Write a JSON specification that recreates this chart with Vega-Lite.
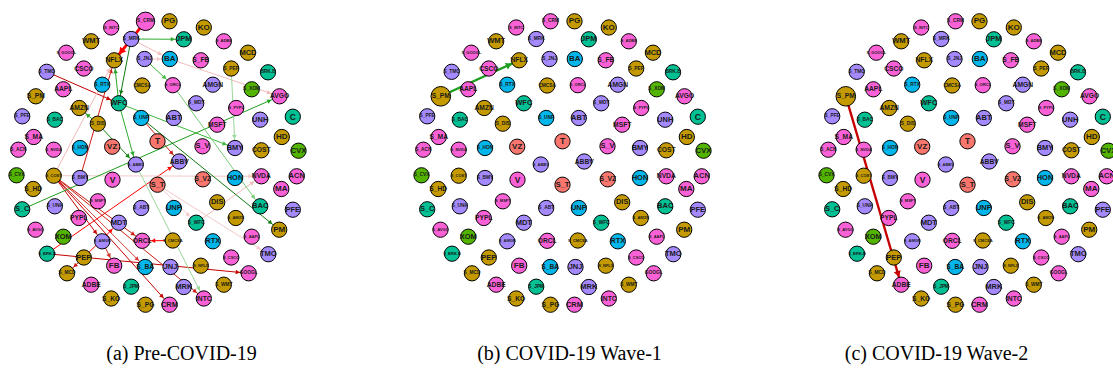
{
  "$schema": "https://vega.github.io/schema/vega-lite/v6.json",
  "background": "white",
  "padding": {"left": 6.5, "top": 10, "right": 0, "bottom": 0},
  "spacing": 103,
  "config": {
    "view": {"stroke": null},
    "title": {"font": "Liberation Serif", "fontSize": 20, "fontWeight": "normal", "color": "#000", "orient": "bottom", "offset": 30, "anchor": "middle"}
  },
  "datasets": {
    "nodes": [
      {"id": "PG", "x": 12, "y": -141.7, "sector": "Consumer"},
      {"id": "S_PG", "x": -12, "y": 141.7, "sector": "Consumer"},
      {"id": "KO", "x": 46.3, "y": -135.5, "sector": "Consumer"},
      {"id": "S_KO", "x": -46.3, "y": 135.5, "sector": "Consumer"},
      {"id": "WMT", "x": -66.3, "y": -121.7, "sector": "Consumer"},
      {"id": "S_WMT", "x": 66.3, "y": 121.7, "sector": "Consumer"},
      {"id": "JPM", "x": 26.3, "y": -123.7, "sector": "Financials"},
      {"id": "S_JPM", "x": -26.3, "y": 123.7, "sector": "Financials"},
      {"id": "MCD", "x": 90.5, "y": -110.3, "sector": "Consumer"},
      {"id": "S_MCD", "x": -90.5, "y": 110.3, "sector": "Consumer"},
      {"id": "BA", "x": 12.3, "y": -104, "sector": "Industrials"},
      {"id": "S_BA", "x": -12.3, "y": 104, "sector": "Industrials"},
      {"id": "NFLX", "x": -43.3, "y": -102.7, "sector": "Consumer"},
      {"id": "S_NFLX", "x": 43.3, "y": 102.7, "sector": "Consumer"},
      {"id": "CSCO", "x": -73.7, "y": -94.5, "sector": "Technology"},
      {"id": "S_CSCO", "x": 73.7, "y": 94.5, "sector": "Technology"},
      {"id": "BRK.B", "x": 110.5, "y": -90.7, "sector": "Financials"},
      {"id": "S_BRK.B", "x": -110.5, "y": 90.7, "sector": "Financials"},
      {"id": "CMCSA", "x": -15.3, "y": -77.5, "sector": "Consumer"},
      {"id": "S_CMCSA", "x": 15.3, "y": 77.5, "sector": "Consumer"},
      {"id": "AMGN", "x": 55.3, "y": -78.3, "sector": "Health"},
      {"id": "S_AMGN", "x": -55.3, "y": 78.3, "sector": "Health"},
      {"id": "AAPL", "x": -94.2, "y": -73.7, "sector": "Technology"},
      {"id": "S_AAPL", "x": 94.2, "y": 73.7, "sector": "Technology"},
      {"id": "AVGO", "x": 122, "y": -66.7, "sector": "Technology"},
      {"id": "S_AVGO", "x": -122, "y": 66.7, "sector": "Technology"},
      {"id": "WFC", "x": -38.7, "y": -59.7, "sector": "Financials"},
      {"id": "S_WFC", "x": 38.7, "y": 59.7, "sector": "Financials"},
      {"id": "AMZN", "x": -78.3, "y": -55, "sector": "Consumer"},
      {"id": "S_AMZN", "x": 78.3, "y": 55, "sector": "Consumer"},
      {"id": "ABT", "x": 16.3, "y": -45, "sector": "Health"},
      {"id": "S_ABT", "x": -16.3, "y": 45, "sector": "Health"},
      {"id": "MSFT", "x": 59.7, "y": -38.3, "sector": "Technology"},
      {"id": "S_MSFT", "x": -59.7, "y": 38.3, "sector": "Technology"},
      {"id": "UNH", "x": 102.7, "y": -43.3, "sector": "Health"},
      {"id": "S_UNH", "x": -102.7, "y": 43.3, "sector": "Health"},
      {"id": "C", "x": 135.3, "y": -46.3, "sector": "Financials"},
      {"id": "S_C", "x": -135.3, "y": 46.3, "sector": "Financials"},
      {"id": "HD", "x": 124.3, "y": -26, "sector": "Consumer"},
      {"id": "S_HD", "x": -124.3, "y": 26, "sector": "Consumer"},
      {"id": "T", "x": 0, "y": -21.7, "sector": "Telecom"},
      {"id": "S_T", "x": 0, "y": 21.7, "sector": "Telecom"},
      {"id": "VZ", "x": -45.3, "y": -16.3, "sector": "Telecom"},
      {"id": "S_VZ", "x": 45.3, "y": 16.3, "sector": "Telecom"},
      {"id": "BMY", "x": 77.5, "y": -15, "sector": "Health"},
      {"id": "S_BMY", "x": -77.5, "y": 15, "sector": "Health"},
      {"id": "COST", "x": 103.8, "y": -12.7, "sector": "Consumer"},
      {"id": "S_COST", "x": -103.8, "y": 12.7, "sector": "Consumer"},
      {"id": "CVX", "x": 141, "y": -12.3, "sector": "Energy"},
      {"id": "S_CVX", "x": -141, "y": 12.3, "sector": "Energy"},
      {"id": "ABBV", "x": 21.7, "y": -1.5, "sector": "Health"},
      {"id": "S_ABBV", "x": -21.7, "y": 1.5, "sector": "Health"},
      {"id": "V", "x": -45, "y": 16.7, "sector": "Technology"},
      {"id": "S_V", "x": 45, "y": -16.7, "sector": "Technology"},
      {"id": "HON", "x": 77.5, "y": 15, "sector": "Industrials"},
      {"id": "S_HON", "x": -77.5, "y": -15, "sector": "Industrials"},
      {"id": "NVDA", "x": 103.8, "y": 13.3, "sector": "Technology"},
      {"id": "S_NVDA", "x": -103.8, "y": -13.3, "sector": "Technology"},
      {"id": "ACN", "x": 139.2, "y": 13.3, "sector": "Technology"},
      {"id": "S_ACN", "x": -139.2, "y": -13.3, "sector": "Technology"},
      {"id": "MA", "x": 123.8, "y": 26, "sector": "Technology"},
      {"id": "S_MA", "x": -123.8, "y": -26, "sector": "Technology"},
      {"id": "DIS", "x": 59.7, "y": 39.3, "sector": "Consumer"},
      {"id": "S_DIS", "x": -59.7, "y": -39.3, "sector": "Consumer"},
      {"id": "BAC", "x": 102.7, "y": 43.3, "sector": "Financials"},
      {"id": "S_BAC", "x": -102.7, "y": -43.3, "sector": "Financials"},
      {"id": "PFE", "x": 135.3, "y": 46.7, "sector": "Health"},
      {"id": "S_PFE", "x": -135.3, "y": -46.7, "sector": "Health"},
      {"id": "UNP", "x": 16.3, "y": 45, "sector": "Industrials"},
      {"id": "S_UNP", "x": -16.3, "y": -45, "sector": "Industrials"},
      {"id": "PYPL", "x": -78.7, "y": 55, "sector": "Technology"},
      {"id": "S_PYPL", "x": 78.7, "y": -55, "sector": "Technology"},
      {"id": "MDT", "x": -38.7, "y": 59.7, "sector": "Health"},
      {"id": "S_MDT", "x": 38.7, "y": -59.7, "sector": "Health"},
      {"id": "ORCL", "x": -15.3, "y": 77.8, "sector": "Technology"},
      {"id": "S_ORCL", "x": 15.3, "y": -77.8, "sector": "Technology"},
      {"id": "RTX", "x": 55.3, "y": 78.3, "sector": "Industrials"},
      {"id": "S_RTX", "x": -55.3, "y": -78.3, "sector": "Industrials"},
      {"id": "PM", "x": 121.7, "y": 66.7, "sector": "Consumer"},
      {"id": "S_PM", "x": -121.7, "y": -66.7, "sector": "Consumer"},
      {"id": "XOM", "x": -94.2, "y": 73.7, "sector": "Energy"},
      {"id": "S_XOM", "x": 94.2, "y": -73.7, "sector": "Energy"},
      {"id": "TMO", "x": 110.8, "y": 91.2, "sector": "Health"},
      {"id": "S_TMO", "x": -110.8, "y": -91.2, "sector": "Health"},
      {"id": "PEP", "x": -73.7, "y": 94.5, "sector": "Consumer"},
      {"id": "S_PEP", "x": 73.7, "y": -94.5, "sector": "Consumer"},
      {"id": "FB", "x": -43.3, "y": 102.7, "sector": "Technology"},
      {"id": "S_FB", "x": 43.3, "y": -102.7, "sector": "Technology"},
      {"id": "JNJ", "x": 13, "y": 104, "sector": "Health"},
      {"id": "S_JNJ", "x": -13, "y": -104, "sector": "Health"},
      {"id": "GOOGL", "x": 91.2, "y": 110.3, "sector": "Technology"},
      {"id": "S_GOOGL", "x": -91.2, "y": -110.3, "sector": "Technology"},
      {"id": "ADBE", "x": -66.3, "y": 121.7, "sector": "Technology"},
      {"id": "S_ADBE", "x": 66.3, "y": -121.7, "sector": "Technology"},
      {"id": "MRK", "x": 26.3, "y": 124, "sector": "Health"},
      {"id": "S_MRK", "x": -26.3, "y": -124, "sector": "Health"},
      {"id": "INTC", "x": 46.3, "y": 135.5, "sector": "Technology"},
      {"id": "S_INTC", "x": -46.3, "y": -135.5, "sector": "Technology"},
      {"id": "CRM", "x": 12, "y": 141.7, "sector": "Technology"},
      {"id": "S_CRM", "x": -12, "y": -141.7, "sector": "Technology"}
    ],
    "hubs": [
      {"id": "S_CRM", "a": 1.7, "b": 1, "c": 1},
      {"id": "S_PM", "a": 1, "b": 2, "c": 2}
    ],
    "edges": [
      {"p": "a", "src": "S_CRM", "dst": "NFLX", "w": -1, "s": 3},
      {"p": "a", "src": "S_TMO", "dst": "WFC", "w": -0.85, "s": 1},
      {"p": "a", "src": "S_BMY", "dst": "NFLX", "w": -0.8, "s": 1},
      {"p": "a", "src": "S_COST", "dst": "NFLX", "w": -0.25, "s": 1},
      {"p": "a", "src": "S_UNP", "dst": "ABBV", "w": -0.8, "s": 1},
      {"p": "a", "src": "S_BRK.B", "dst": "ABBV", "w": -0.95, "s": 1},
      {"p": "a", "src": "S_BRK.B", "dst": "GOOGL", "w": -0.85, "s": 1},
      {"p": "a", "src": "PEP", "dst": "MDT", "w": -0.95, "s": 1},
      {"p": "a", "src": "PEP", "dst": "S_MCD", "w": -0.8, "s": 1},
      {"p": "a", "src": "S_AMGN", "dst": "FB", "w": -0.75, "s": 1},
      {"p": "a", "src": "S_COST", "dst": "S_AMGN", "w": -0.85, "s": 1},
      {"p": "a", "src": "S_COST", "dst": "ORCL", "w": -0.8, "s": 1},
      {"p": "a", "src": "S_COST", "dst": "S_BA", "w": -0.7, "s": 1},
      {"p": "a", "src": "S_COST", "dst": "CRM", "w": -0.85, "s": 1},
      {"p": "a", "src": "S_COST", "dst": "INTC", "w": -0.8, "s": 1},
      {"p": "a", "src": "S_COST", "dst": "NVDA", "w": -0.2, "s": 1},
      {"p": "a", "src": "S_CMCSA", "dst": "ORCL", "w": -0.95, "s": 1},
      {"p": "a", "src": "S_MRK", "dst": "BA", "w": -0.25, "s": 1},
      {"p": "a", "src": "S_JNJ", "dst": "BA", "w": -0.2, "s": 1},
      {"p": "a", "src": "BA", "dst": "AVGO", "w": -0.25, "s": 1},
      {"p": "a", "src": "S_WFC", "dst": "NVDA", "w": -0.25, "s": 1},
      {"p": "a", "src": "S_T", "dst": "TMO", "w": -0.2, "s": 1},
      {"p": "a", "src": "S_T", "dst": "S_WFC", "w": -0.2, "s": 1},
      {"p": "a", "src": "S_MRK", "dst": "JPM", "w": 0.7, "s": 1},
      {"p": "a", "src": "S_MRK", "dst": "WFC", "w": 0.95, "s": 1},
      {"p": "a", "src": "WFC", "dst": "NFLX", "w": 0.75, "s": 1},
      {"p": "a", "src": "S_JNJ", "dst": "S_ORCL", "w": 0.6, "s": 1},
      {"p": "a", "src": "S_DIS", "dst": "AMZN", "w": 0.75, "s": 1},
      {"p": "a", "src": "WFC", "dst": "S_ABBV", "w": 0.7, "s": 1},
      {"p": "a", "src": "S_DIS", "dst": "S_ABBV", "w": 0.9, "s": 1},
      {"p": "a", "src": "WFC", "dst": "BMY", "w": 0.6, "s": 1},
      {"p": "a", "src": "S_C", "dst": "AVGO", "w": 0.8, "s": 1},
      {"p": "a", "src": "S_PEP", "dst": "BMY", "w": 0.35, "s": 1},
      {"p": "a", "src": "S_ORCL", "dst": "BAC", "w": 0.45, "s": 1},
      {"p": "a", "src": "S_UNP", "dst": "PM", "w": 0.95, "s": 1},
      {"p": "a", "src": "S_ABBV", "dst": "INTC", "w": 0.35, "s": 1},
      {"p": "b", "src": "S_PM", "dst": "NFLX", "w": 0.8, "s": 2.5},
      {"p": "c", "src": "S_PM", "dst": "ADBE", "w": -0.85, "s": 2.5}
    ]
  },
  "hconcat": [
    {
      "width": 300, "height": 300,
      "title": {"text": "(a) Pre-COVID-19", "dx": 24},
      "resolve": {"scale": {"size": "independent", "color": "independent", "fill": "independent", "strokeWidth": "independent"}},
      "layer": [
        {
          "data": {"name": "edges"},
          "transform": [
            {"filter": "datum.p === 'a'"},
            {"lookup": "src", "from": {"data": {"name": "nodes"}, "key": "id", "fields": ["x", "y"]}, "as": ["x1", "y1"]},
            {"lookup": "dst", "from": {"data": {"name": "nodes"}, "key": "id", "fields": ["x", "y"]}, "as": ["x2", "y2"]}
          ],
          "mark": {"type": "rule"},
          "encoding": {
            "x": {"field": "x1", "type": "quantitative", "scale": {"domain": [-150, 150], "nice": false, "zero": false}, "axis": null},
            "y": {"field": "y1", "type": "quantitative", "scale": {"domain": [-150, 150], "nice": false, "zero": false, "reverse": true}, "axis": null},
            "x2": {"field": "x2"},
            "y2": {"field": "y2"},
            "color": {"field": "w", "type": "quantitative", "scale": {"domain": [-1, -0.9, -0.85, -0.5, -0.2, 0.3, 0.6, 0.8, 1], "range": ["#ff0000", "#ff0000", "#c40000", "#e07070", "#f5c9c9", "#a9dea9", "#3cb83c", "#1e9e1e", "#0b6e0b"]}, "legend": null},
            "strokeWidth": {"field": "s", "type": "quantitative", "scale": {"domain": [1, 3], "range": [1, 2.8]}, "legend": null}
          }
        },
        {
          "data": {"name": "edges"},
          "transform": [
            {"filter": "datum.p === 'a'"},
            {"lookup": "src", "from": {"data": {"name": "nodes"}, "key": "id", "fields": ["x", "y"]}, "as": ["x1", "y1"]},
            {"lookup": "dst", "from": {"data": {"name": "nodes"}, "key": "id", "fields": ["x", "y"]}, "as": ["x2", "y2"]},
            {"calculate": "sqrt(pow(datum.x2 - datum.x1, 2) + pow(datum.y2 - datum.y1, 2))", "as": "len"},
            {"calculate": "datum.x2 - 11 * (datum.x2 - datum.x1) / datum.len", "as": "ax"},
            {"calculate": "datum.y2 - 11 * (datum.y2 - datum.y1) / datum.len", "as": "ay"},
            {"calculate": "(atan2(datum.x2 - datum.x1, -(datum.y2 - datum.y1)) * 180 / PI + 360) % 360", "as": "ang"}
          ],
          "mark": {"type": "point", "shape": "triangle-up", "filled": true, "opacity": 1},
          "encoding": {
            "x": {"field": "ax", "type": "quantitative"},
            "y": {"field": "ay", "type": "quantitative"},
            "angle": {"field": "ang", "type": "quantitative", "scale": {"domain": [0, 360], "range": [0, 360]}},
            "color": {"field": "w", "type": "quantitative", "scale": {"domain": [-1, -0.9, -0.85, -0.5, -0.2, 0.3, 0.6, 0.8, 1], "range": ["#ff0000", "#ff0000", "#c40000", "#e07070", "#f5c9c9", "#a9dea9", "#3cb83c", "#1e9e1e", "#0b6e0b"]}, "legend": null},
            "size": {"field": "s", "type": "quantitative", "scale": {"domain": [1, 3], "range": [22, 60]}, "legend": null}
          }
        },
        {
          "data": {"name": "nodes"},
          "transform": [
            {"lookup": "id", "from": {"data": {"name": "hubs"}, "key": "id", "fields": ["a"]}, "as": ["hub"], "default": 1}
          ],
          "mark": {"type": "point", "shape": "circle", "filled": true, "opacity": 1, "stroke": "#000", "strokeWidth": 1},
          "encoding": {
            "x": {"field": "x", "type": "quantitative"},
            "y": {"field": "y", "type": "quantitative"},
            "fill": {"field": "sector", "type": "nominal", "scale": {"domain": ["Telecom", "Consumer", "Energy", "Financials", "Industrials", "Health", "Technology"], "range": ["#F8766D", "#C49A00", "#53B400", "#00C094", "#00B6EB", "#A58AFF", "#FB61D7"]}, "legend": null},
            "size": {"field": "hub", "type": "quantitative", "scale": {"domain": [1, 2], "range": [234, 384], "zero": false}, "legend": null}
          }
        },
        {
          "data": {"name": "nodes"},
          "transform": [
            {"calculate": "length(datum.id) <= 1 ? 8.5 : length(datum.id) == 2 ? 8 : length(datum.id) == 3 ? 7.5 : length(datum.id) == 4 ? 6.7 : length(datum.id) == 5 ? 4.8 : 4", "as": "fs"}
          ],
          "mark": {"type": "text", "font": "Liberation Sans", "fontWeight": "bold", "fill": "#1a1a1a", "align": "center", "baseline": "middle"},
          "encoding": {
            "x": {"field": "x", "type": "quantitative"},
            "y": {"field": "y", "type": "quantitative"},
            "text": {"field": "id"},
            "size": {"field": "fs", "type": "quantitative", "scale": null}
          }
        }
      ]
    },
    {
      "width": 300, "height": 300,
      "title": {"text": "(b) COVID-19 Wave-1", "dx": 7},
      "resolve": {"scale": {"size": "independent", "color": "independent", "fill": "independent", "strokeWidth": "independent"}},
      "layer": [
        {
          "data": {"name": "edges"},
          "transform": [
            {"filter": "datum.p === 'b'"},
            {"lookup": "src", "from": {"data": {"name": "nodes"}, "key": "id", "fields": ["x", "y"]}, "as": ["x1", "y1"]},
            {"lookup": "dst", "from": {"data": {"name": "nodes"}, "key": "id", "fields": ["x", "y"]}, "as": ["x2", "y2"]}
          ],
          "mark": {"type": "rule"},
          "encoding": {
            "x": {"field": "x1", "type": "quantitative", "scale": {"domain": [-150, 150], "nice": false, "zero": false}, "axis": null},
            "y": {"field": "y1", "type": "quantitative", "scale": {"domain": [-150, 150], "nice": false, "zero": false, "reverse": true}, "axis": null},
            "x2": {"field": "x2"},
            "y2": {"field": "y2"},
            "color": {"field": "w", "type": "quantitative", "scale": {"domain": [-1, -0.9, -0.85, -0.5, -0.2, 0.3, 0.6, 0.8, 1], "range": ["#ff0000", "#ff0000", "#c40000", "#e07070", "#f5c9c9", "#a9dea9", "#3cb83c", "#1e9e1e", "#0b6e0b"]}, "legend": null},
            "strokeWidth": {"field": "s", "type": "quantitative", "scale": {"domain": [1, 3], "range": [1, 2.8]}, "legend": null}
          }
        },
        {
          "data": {"name": "edges"},
          "transform": [
            {"filter": "datum.p === 'b'"},
            {"lookup": "src", "from": {"data": {"name": "nodes"}, "key": "id", "fields": ["x", "y"]}, "as": ["x1", "y1"]},
            {"lookup": "dst", "from": {"data": {"name": "nodes"}, "key": "id", "fields": ["x", "y"]}, "as": ["x2", "y2"]},
            {"calculate": "sqrt(pow(datum.x2 - datum.x1, 2) + pow(datum.y2 - datum.y1, 2))", "as": "len"},
            {"calculate": "datum.x2 - 11 * (datum.x2 - datum.x1) / datum.len", "as": "ax"},
            {"calculate": "datum.y2 - 11 * (datum.y2 - datum.y1) / datum.len", "as": "ay"},
            {"calculate": "(atan2(datum.x2 - datum.x1, -(datum.y2 - datum.y1)) * 180 / PI + 360) % 360", "as": "ang"}
          ],
          "mark": {"type": "point", "shape": "triangle-up", "filled": true, "opacity": 1},
          "encoding": {
            "x": {"field": "ax", "type": "quantitative"},
            "y": {"field": "ay", "type": "quantitative"},
            "angle": {"field": "ang", "type": "quantitative", "scale": {"domain": [0, 360], "range": [0, 360]}},
            "color": {"field": "w", "type": "quantitative", "scale": {"domain": [-1, -0.9, -0.85, -0.5, -0.2, 0.3, 0.6, 0.8, 1], "range": ["#ff0000", "#ff0000", "#c40000", "#e07070", "#f5c9c9", "#a9dea9", "#3cb83c", "#1e9e1e", "#0b6e0b"]}, "legend": null},
            "size": {"field": "s", "type": "quantitative", "scale": {"domain": [1, 3], "range": [22, 60]}, "legend": null}
          }
        },
        {
          "data": {"name": "nodes"},
          "transform": [
            {"lookup": "id", "from": {"data": {"name": "hubs"}, "key": "id", "fields": ["b"]}, "as": ["hub"], "default": 1}
          ],
          "mark": {"type": "point", "shape": "circle", "filled": true, "opacity": 1, "stroke": "#000", "strokeWidth": 1},
          "encoding": {
            "x": {"field": "x", "type": "quantitative"},
            "y": {"field": "y", "type": "quantitative"},
            "fill": {"field": "sector", "type": "nominal", "scale": {"domain": ["Telecom", "Consumer", "Energy", "Financials", "Industrials", "Health", "Technology"], "range": ["#F8766D", "#C49A00", "#53B400", "#00C094", "#00B6EB", "#A58AFF", "#FB61D7"]}, "legend": null},
            "size": {"field": "hub", "type": "quantitative", "scale": {"domain": [1, 2], "range": [234, 384], "zero": false}, "legend": null}
          }
        },
        {
          "data": {"name": "nodes"},
          "transform": [
            {"calculate": "length(datum.id) <= 1 ? 8.5 : length(datum.id) == 2 ? 8 : length(datum.id) == 3 ? 7.5 : length(datum.id) == 4 ? 6.7 : length(datum.id) == 5 ? 4.8 : 4", "as": "fs"}
          ],
          "mark": {"type": "text", "font": "Liberation Sans", "fontWeight": "bold", "fill": "#1a1a1a", "align": "center", "baseline": "middle"},
          "encoding": {
            "x": {"field": "x", "type": "quantitative"},
            "y": {"field": "y", "type": "quantitative"},
            "text": {"field": "id"},
            "size": {"field": "fs", "type": "quantitative", "scale": null}
          }
        }
      ]
    },
    {
      "width": 300, "height": 300,
      "title": {"text": "(c) COVID-19 Wave-2", "dx": -31},
      "resolve": {"scale": {"size": "independent", "color": "independent", "fill": "independent", "strokeWidth": "independent"}},
      "layer": [
        {
          "data": {"name": "edges"},
          "transform": [
            {"filter": "datum.p === 'c'"},
            {"lookup": "src", "from": {"data": {"name": "nodes"}, "key": "id", "fields": ["x", "y"]}, "as": ["x1", "y1"]},
            {"lookup": "dst", "from": {"data": {"name": "nodes"}, "key": "id", "fields": ["x", "y"]}, "as": ["x2", "y2"]}
          ],
          "mark": {"type": "rule"},
          "encoding": {
            "x": {"field": "x1", "type": "quantitative", "scale": {"domain": [-150, 150], "nice": false, "zero": false}, "axis": null},
            "y": {"field": "y1", "type": "quantitative", "scale": {"domain": [-150, 150], "nice": false, "zero": false, "reverse": true}, "axis": null},
            "x2": {"field": "x2"},
            "y2": {"field": "y2"},
            "color": {"field": "w", "type": "quantitative", "scale": {"domain": [-1, -0.9, -0.85, -0.5, -0.2, 0.3, 0.6, 0.8, 1], "range": ["#ff0000", "#ff0000", "#c40000", "#e07070", "#f5c9c9", "#a9dea9", "#3cb83c", "#1e9e1e", "#0b6e0b"]}, "legend": null},
            "strokeWidth": {"field": "s", "type": "quantitative", "scale": {"domain": [1, 3], "range": [1, 2.8]}, "legend": null}
          }
        },
        {
          "data": {"name": "edges"},
          "transform": [
            {"filter": "datum.p === 'c'"},
            {"lookup": "src", "from": {"data": {"name": "nodes"}, "key": "id", "fields": ["x", "y"]}, "as": ["x1", "y1"]},
            {"lookup": "dst", "from": {"data": {"name": "nodes"}, "key": "id", "fields": ["x", "y"]}, "as": ["x2", "y2"]},
            {"calculate": "sqrt(pow(datum.x2 - datum.x1, 2) + pow(datum.y2 - datum.y1, 2))", "as": "len"},
            {"calculate": "datum.x2 - 11 * (datum.x2 - datum.x1) / datum.len", "as": "ax"},
            {"calculate": "datum.y2 - 11 * (datum.y2 - datum.y1) / datum.len", "as": "ay"},
            {"calculate": "(atan2(datum.x2 - datum.x1, -(datum.y2 - datum.y1)) * 180 / PI + 360) % 360", "as": "ang"}
          ],
          "mark": {"type": "point", "shape": "triangle-up", "filled": true, "opacity": 1},
          "encoding": {
            "x": {"field": "ax", "type": "quantitative"},
            "y": {"field": "ay", "type": "quantitative"},
            "angle": {"field": "ang", "type": "quantitative", "scale": {"domain": [0, 360], "range": [0, 360]}},
            "color": {"field": "w", "type": "quantitative", "scale": {"domain": [-1, -0.9, -0.85, -0.5, -0.2, 0.3, 0.6, 0.8, 1], "range": ["#ff0000", "#ff0000", "#c40000", "#e07070", "#f5c9c9", "#a9dea9", "#3cb83c", "#1e9e1e", "#0b6e0b"]}, "legend": null},
            "size": {"field": "s", "type": "quantitative", "scale": {"domain": [1, 3], "range": [22, 60]}, "legend": null}
          }
        },
        {
          "data": {"name": "nodes"},
          "transform": [
            {"lookup": "id", "from": {"data": {"name": "hubs"}, "key": "id", "fields": ["c"]}, "as": ["hub"], "default": 1}
          ],
          "mark": {"type": "point", "shape": "circle", "filled": true, "opacity": 1, "stroke": "#000", "strokeWidth": 1},
          "encoding": {
            "x": {"field": "x", "type": "quantitative"},
            "y": {"field": "y", "type": "quantitative"},
            "fill": {"field": "sector", "type": "nominal", "scale": {"domain": ["Telecom", "Consumer", "Energy", "Financials", "Industrials", "Health", "Technology"], "range": ["#F8766D", "#C49A00", "#53B400", "#00C094", "#00B6EB", "#A58AFF", "#FB61D7"]}, "legend": null},
            "size": {"field": "hub", "type": "quantitative", "scale": {"domain": [1, 2], "range": [234, 384], "zero": false}, "legend": null}
          }
        },
        {
          "data": {"name": "nodes"},
          "transform": [
            {"calculate": "length(datum.id) <= 1 ? 8.5 : length(datum.id) == 2 ? 8 : length(datum.id) == 3 ? 7.5 : length(datum.id) == 4 ? 6.7 : length(datum.id) == 5 ? 4.8 : 4", "as": "fs"}
          ],
          "mark": {"type": "text", "font": "Liberation Sans", "fontWeight": "bold", "fill": "#1a1a1a", "align": "center", "baseline": "middle"},
          "encoding": {
            "x": {"field": "x", "type": "quantitative"},
            "y": {"field": "y", "type": "quantitative"},
            "text": {"field": "id"},
            "size": {"field": "fs", "type": "quantitative", "scale": null}
          }
        }
      ]
    }
  ]
}
